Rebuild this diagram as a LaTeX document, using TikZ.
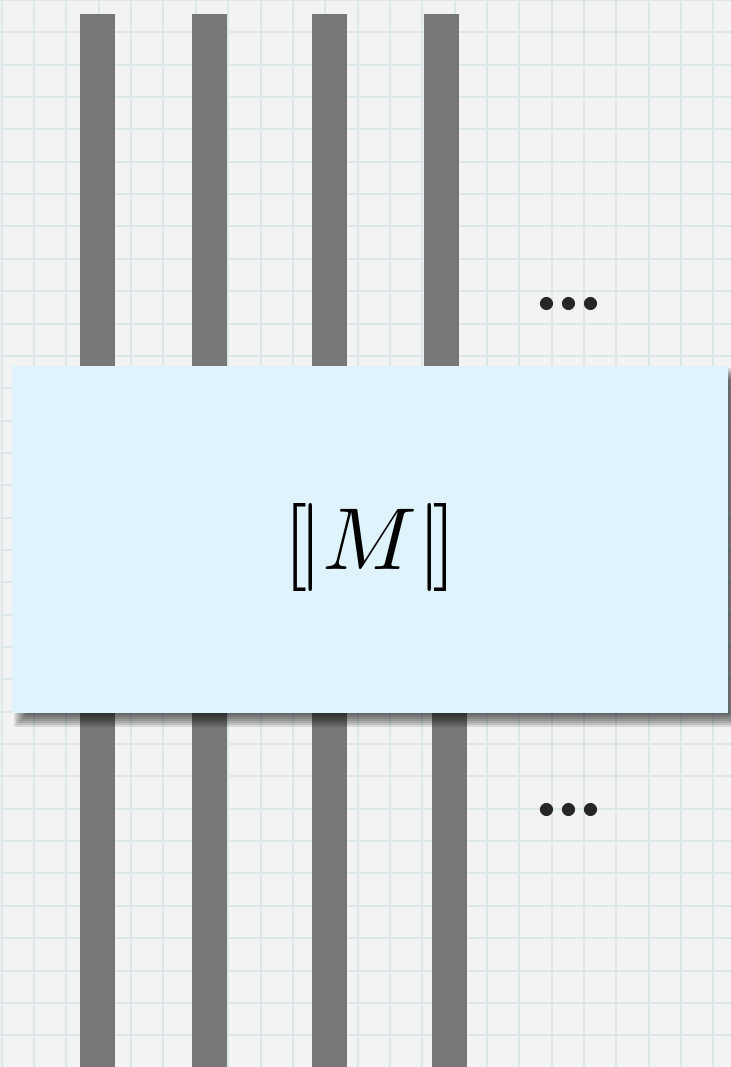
\documentclass[tikz,border=0pt]{standalone}
\usepackage{tikz}
\definecolor{wiregray}{HTML}{777777}
\definecolor{boxblue}{HTML}{DFF3FC}
\definecolor{paper}{HTML}{F3F3F3}
\definecolor{gridline}{HTML}{DCE7EA}

\begin{document}
\begin{tikzpicture}[x=0.5pt,y=-0.5pt]
      \tikzset{
        wire/.style={wiregray, line width=17.5pt},
        meaning box/.style={fill=boxblue, inner sep=0pt,
            minimum width=358pt, minimum height=173.5pt},
        soft shadow/.style={fill=black, opacity=0.11},
        more dots/.style={text=black!85, inner sep=0pt}
      }

      \def\W{731}  % picture width
      \def\H{1067} % picture height
      \def\g{32.35} % grid step
      \def\moredots{\scalebox{1.7}{$\bullet\mkern2.7mu\mathord{\bullet}\mkern2.7mu\mathord{\bullet}$}}

      % Paper
      \useasboundingbox (0,0) rectangle (\W,\H);
      \fill[paper] (0,0) rectangle (\W,\H);
      \foreach \k in {0,...,22} {
          \draw[gridline, line width=1pt] ({1.7+\g*\k},0) -- ++(0,\H);
        }
      \foreach \k in {0,...,33} {
          \draw[gridline, line width=1pt] (0,{\g*\k}) -- ++(\W,0);
        }

      % Wires
      \foreach \x in {97.5,209.5,329.5,441.5} {
          \draw[wire] (\x,14) -- (\x,400); % incoming
        }
      \foreach \x in {97.5,209.5,329.5,449.5} {
          \draw[wire] (\x,690) -- (\x,\H); % outgoing
        }

      % Blurred shadow of the box
      \foreach \d in {-6,-4,...,6} {
          \fill[soft shadow] ({20+\d},{374+\d}) rectangle ({736-\d},{721-\d});
        }

      % Box
      \node[meaning box] (box) at (370,539.5) {};
      \node (meaning) at (370,547) {\scalebox{4.4}{$[\mskip-2mu|\mathnormal{M}|\mskip-2mu]$}};

      \node[more dots] (dotsIn) at (569,305) {\moredots};
      \node[more dots] (dotsOut) at (569,811) {\moredots};
    \end{tikzpicture}
\end{document}
